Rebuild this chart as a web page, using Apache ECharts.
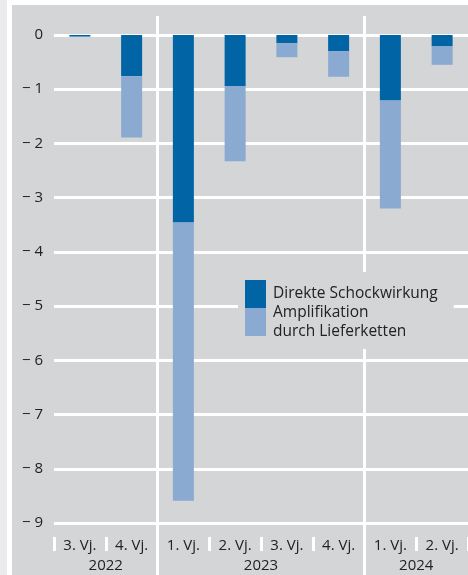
<!DOCTYPE html>
<html>
<head>
<meta charset="utf-8">
<script src="https://cdn.jsdelivr.net/npm/echarts@6/dist/echarts.min.js"></script>
<style>
  body { margin: 0; }
  #chart {
    width: 468px; height: 575px;
    background:
      linear-gradient(to bottom, #fff 5px, transparent 5px) 7px 0 / 461px 575px no-repeat,
      linear-gradient(to right, #ebebee 7px, #fff 7px, #fff 12px, #d4d5d7 12px);
  }
</style>
</head>
<body>
<div id="chart"></div>
<script>
// quarter labels and year groups
var quarters = ['3. Vj.', '4. Vj.', '1. Vj.', '2. Vj.', '3. Vj.', '4. Vj.', '1. Vj.', '2. Vj.'];
var years = ['2022', '2023', '2024'];
var yearCenters = [1, 4, 7];       // position on the 0..8 quarter scale
var yearBreaks = [2, 6];
var quarterTicks = [0, 1, 3, 4, 5, 7, 8];

// values in percent (negative)
var direkt = [-0.03, -0.76, -3.46, -0.94, -0.15, -0.30, -1.21, -0.21];
var amplifikation = [0, -1.13, -5.13, -1.39, -0.26, -0.47, -1.99, -0.34];

var font = 'Open Sans';
var dom = document.getElementById('chart');
var myChart = echarts.init(dom, null, {renderer: 'canvas'});

var option = {
  backgroundColor: 'transparent',
  animation: false,
  textStyle: {fontFamily: font},
  grid: {left: 54, right: 0, top: 35, bottom: 52},
  legend: {
    orient: 'vertical',
    left: 238, top: 272,
    padding: [8, 16, 8, 7],
    backgroundColor: '#d4d5d7',
    icon: 'rect',
    itemWidth: 21, itemHeight: 28, itemGap: -5,
    textStyle: {fontFamily: font, fontSize: 15.5, color: '#222', lineHeight: 19, padding: [0, 0, 0, 2]},
    data: ['Direkte Schockwirkung', 'Amplifikation\ndurch Lieferketten']
  },
  xAxis: [
    {
      type: 'category',
      data: quarters,
      axisLine: {show: false},
      axisTick: {show: false},
      axisLabel: {fontFamily: font, fontSize: 15, color: '#222', margin: 15}
    },
    {
      type: 'value',
      min: 0, max: 8,
      position: 'bottom',
      offset: 14,
      axisLine: {show: false},
      splitLine: {show: false},
      axisTick: {show: true, customValues: quarterTicks, length: 14, lineStyle: {color: '#fff', width: 3}},
      axisLabel: {
        customValues: yearCenters,
        fontFamily: font, fontSize: 15, color: '#222', margin: 21,
        formatter: function (v) { return years[yearCenters.indexOf(v)]; }
      }
    }
  ],
  yAxis: {
    type: 'value',
    min: -9, max: 0, interval: 1,
    axisLine: {show: false},
    axisTick: {show: false},
    splitLine: {lineStyle: {color: '#fff', width: 3}},
    axisLabel: {
      fontFamily: font, fontSize: 15, color: '#222', margin: 11,
      formatter: function (v) { return v === 0 ? '0' : '\u2212 ' + Math.abs(v); }
    }
  },
  series: [
    {
      name: 'Direkte Schockwirkung',
      type: 'bar', stack: 'a', barWidth: 21,
      itemStyle: {color: '#0064a5'},
      data: direkt
    },
    {
      name: 'Amplifikation\ndurch Lieferketten',
      type: 'bar', stack: 'a', barWidth: 21,
      itemStyle: {color: '#8aaad1'},
      data: amplifikation
    }
  ]
};
myChart.setOption(option);

// full-height year separators
var lines = yearBreaks.map(function (b) {
  var x = myChart.convertToPixel({xAxisIndex: 1}, b);
  return {
    type: 'line', z: 1,
    shape: {x1: x, y1: 16, x2: x, y2: 575},
    style: {stroke: '#fff', lineWidth: 3}
  };
});
myChart.setOption({graphic: lines});
</script>
</body>
</html>
